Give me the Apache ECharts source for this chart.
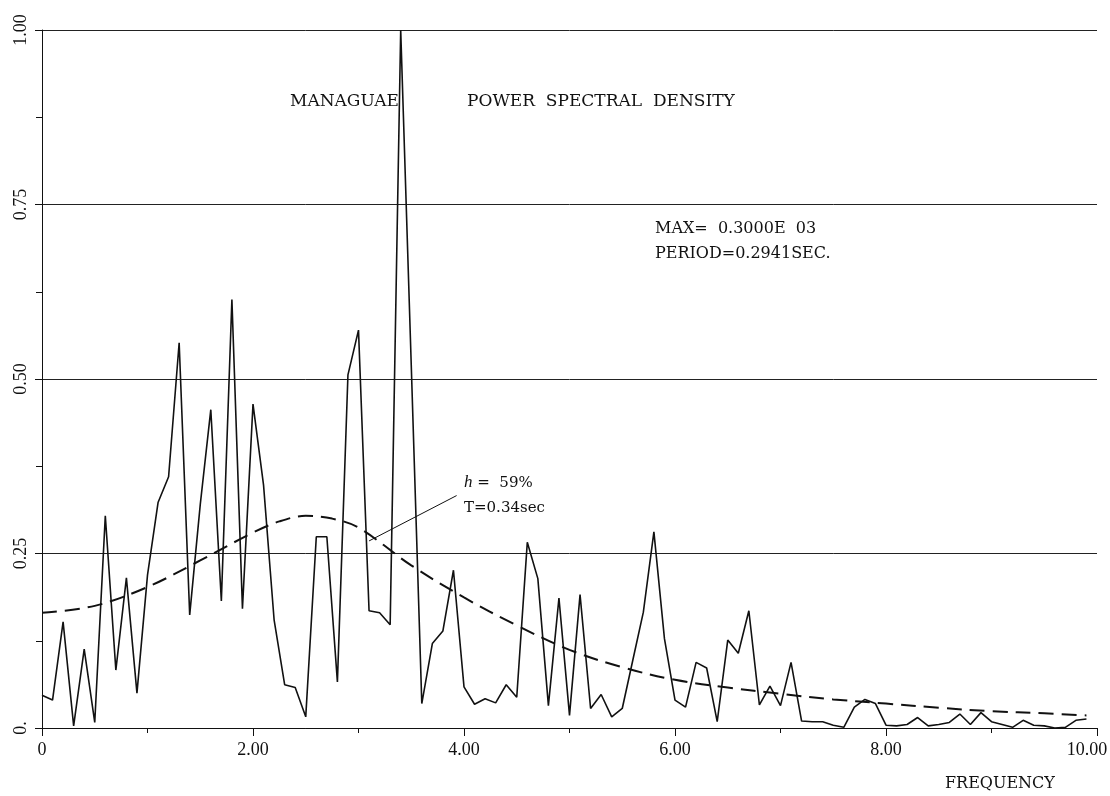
<!DOCTYPE html>
<html><head><meta charset="utf-8">
<script src="https://cdn.jsdelivr.net/npm/echarts@6.0.0/dist/echarts.min.js"></script>
<style>html,body{margin:0;padding:0;background:#fff}#c{width:1110px;height:796px}</style>
</head><body><div id="c"></div>
<script>
// frequency (Hz) of each spectral estimate
const freq = [0.0,0.1,0.2,0.3,0.4,0.5,0.6,0.7,0.8,0.9,1.0,1.1,1.2,1.3,1.4,1.5,1.6,1.7,1.8,1.9,
  2.0,2.1,2.2,2.3,2.4,2.5,2.6,2.7,2.8,2.9,3.0,3.1,3.2,3.3,3.4,3.5,3.6,3.7,3.8,3.9,
  4.0,4.1,4.2,4.3,4.4,4.5,4.6,4.7,4.8,4.9,5.0,5.1,5.2,5.3,5.4,5.5,5.6,5.7,5.8,5.9,
  6.0,6.1,6.2,6.3,6.4,6.5,6.6,6.7,6.8,6.9,7.0,7.1,7.2,7.3,7.4,7.5,7.6,7.7,7.8,7.9,
  8.0,8.1,8.2,8.3,8.4,8.5,8.6,8.7,8.8,8.9,9.0,9.1,9.2,9.3,9.4,9.5,9.6,9.7,9.8,9.9];
// normalised power spectral density
const psd = [0.047,0.040,0.152,0.003,0.113,0.008,0.304,0.083,0.215,0.050,
  0.219,0.323,0.360,0.552,0.162,0.320,0.456,0.182,0.614,0.171,
  0.464,0.348,0.155,0.062,0.058,0.016,0.274,0.274,0.066,0.506,
  0.570,0.168,0.165,0.148,1.000,0.520,0.035,0.121,0.139,0.226,
  0.059,0.034,0.042,0.036,0.062,0.044,0.266,0.214,0.032,0.186,
  0.018,0.191,0.028,0.048,0.016,0.028,0.097,0.166,0.281,0.128,
  0.040,0.030,0.094,0.086,0.009,0.126,0.107,0.168,0.033,0.060,
  0.032,0.094,0.010,0.009,0.009,0.004,0.001,0.030,0.041,0.035,
  0.004,0.003,0.005,0.015,0.003,0.005,0.008,0.020,0.005,0.022,
  0.009,0.005,0.001,0.011,0.004,0.003,0.000,0.001,0.011,0.013];
// fitted (dashed) spectrum
const fitFreq = [0,0.5,1.0,1.5,2.0,2.25,2.5,2.75,3.0,3.5,4.0,4.5,5.0,5.5,6.0,6.5,7.0,7.5,8.0,8.5,9.0,9.5,9.9];
const fitPsd  = [0.165,0.175,0.202,0.240,0.280,0.296,0.304,0.300,0.287,0.233,0.187,0.147,0.112,0.087,0.069,0.058,0.049,0.041,0.035,0.029,0.024,0.021,0.018];
// annotation leader line (data coordinates)
const leaderFreq = [3.1, 3.93];
const leaderPsd = [0.268, 0.333];
const annotLines = ['h', ' =  59%', 'T=0.34sec'];
const titleLeft = 'MANAGUAE';
const titleRight = 'POWER  SPECTRAL  DENSITY';
const infoLines = ['MAX=  0.3000E  03', 'PERIOD=0.2941SEC.'];
const xName = 'FREQUENCY';

const zip = (a, b) => a.map((v, i) => [v, b[i]]);
const INK = '#111';
const chart = echarts.init(document.getElementById('c'), null, {renderer: 'canvas'});
const serif = 'Liberation Serif';
const serif2 = 'DejaVu Serif';

chart.setOption({
  backgroundColor: '#fff',
  animation: false,
  grid: {left: 42, right: 13, top: 30, bottom: 68, containLabel: false, outerBoundsMode: 'none'},
  xAxis: {
    type: 'value', min: 0, max: 10, interval: 2,
    axisLine: {show: true, lineStyle: {color: INK, width: 1}},
    axisTick: {show: true, length: 8, lineStyle: {color: INK}},
    minorTick: {show: true, splitNumber: 2, length: 5, lineStyle: {color: INK}},
    splitLine: {show: false},
    axisLabel: {color: INK, fontFamily: serif, fontSize: 18, margin: 13,
      formatter: v => v === 0 ? '0' : (v === 10 ? '{m|' + v.toFixed(2) + '}' : v.toFixed(2)),
      rich: {m: {fontFamily: serif, fontSize: 18, color: INK, padding: [0, 20, 0, 0]}}}
  },
  yAxis: {
    type: 'value', min: 0, max: 1, interval: 0.25,
    axisLine: {show: true, lineStyle: {color: INK, width: 1}},
    axisTick: {show: true, length: 7, lineStyle: {color: INK}},
    minorTick: {show: true, splitNumber: 2, length: 6, lineStyle: {color: INK}},
    splitLine: {show: true, lineStyle: {color: '#222', width: 1}},
    axisLabel: {color: INK, fontFamily: serif, fontSize: 18, rotate: 90, margin: 12,
      formatter: v => v === 0 ? '0.' : v.toFixed(2)}
  },
  series: [
    {type: 'line', data: zip(freq, psd), showSymbol: false, symbol: 'none',
      lineStyle: {color: INK, width: 1.6}, z: 3},
    {type: 'line', data: zip(fitFreq, fitPsd), showSymbol: false, symbol: 'none', smooth: 0.35,
      lineStyle: {color: INK, width: 2, type: [15, 8]}, z: 4},
    {type: 'line', data: zip(leaderFreq, leaderPsd), showSymbol: false, symbol: 'none',
      lineStyle: {color: INK, width: 1}, z: 5}
  ]
});

const p = (f, v) => chart.convertToPixel({gridIndex: 0}, [f, v]);
const a1 = p(4.0, 0.351), a2 = p(4.0, 0.315);
chart.setOption({
  graphic: [
    {type: 'text', left: 290, top: 93, style: {text: titleLeft, font: '17px "' + serif2 + '"', fill: INK}},
    {type: 'text', left: 467, top: 93, style: {text: titleRight, font: '17px "' + serif2 + '"', fill: INK}},
    {type: 'text', left: 655, top: 221, style: {text: infoLines[0], font: '16px "' + serif2 + '"', fill: INK}},
    {type: 'text', left: 655, top: 246, style: {text: infoLines[1], font: '16px "' + serif2 + '"', fill: INK}},
    {type: 'text', x: a1[0], y: a1[1], style: {
      text: '{i|' + annotLines[0] + '}{n|' + annotLines[1] + '}',
      verticalAlign: 'middle', align: 'left',
      rich: {i: {fontFamily: serif, fontStyle: 'italic', fontSize: 17, fill: INK, color: INK},
             n: {fontFamily: serif2, fontSize: 15, fill: INK, color: INK}}}},
    {type: 'text', x: a2[0], y: a2[1], style: {text: annotLines[2], font: '15px "' + serif2 + '"',
      fill: INK, verticalAlign: 'middle', align: 'left'}},
    {type: 'text', left: 945, top: 776, style: {text: xName, font: '16px "' + serif2 + '"', fill: INK}}
  ]
});
</script>
</body></html>
